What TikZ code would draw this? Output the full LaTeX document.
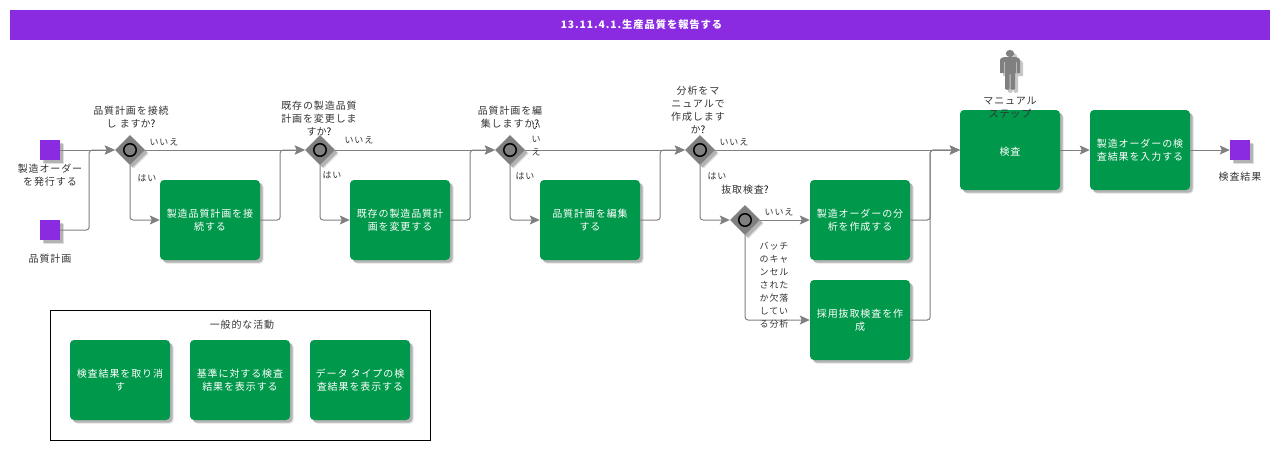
\documentclass[tikz,border=0pt]{standalone}
\usepackage{fontspec}
\setmainfont{Noto Sans CJK JP}[LetterSpace=9]
\usetikzlibrary{shapes.geometric,arrows.meta,shadows}
\definecolor{titlec}{HTML}{8A2BE2}
\definecolor{boxc}{HTML}{00984A}
\definecolor{linec}{HTML}{808080}
\definecolor{txtc}{HTML}{333333}
\newcommand{\qm}{\textcolor{black}{?}}
\newcommand{\figbody}{(-10,60) to[out=90,in=180] (-6,57.2) -- (6,57.2) to[out=0,in=90] (10,60) -- (10,73) -- (5,73) -- (5,88.5) to[out=-90,in=-90] (0.5,88.5) -- (0.5,74) -- (-0.5,74) -- (-0.5,88.5) to[out=-90,in=-90] (-5,88.5) -- (-5,73) -- (-10,73) -- cycle}
\tikzset{
  shade3/.style={drop shadow={shadow xshift=3.6pt,shadow yshift=-3.6pt,fill=black,opacity=.12},drop shadow={shadow xshift=2.6pt,shadow yshift=-2.6pt,fill=black,opacity=.2}},
  task/.style={shade3,fill=boxc,rounded corners=4pt,minimum width=100pt,minimum height=80pt,inner sep=0pt,align=center,text=white,font=\fontsize{10}{13}\selectfont,execute at begin node={\rule{0pt}{11pt}}},
  gate/.style={shade3,diamond,aspect=1,fill=linec,minimum width=30pt,minimum height=30pt,inner sep=0pt},
  ring/.style={circle,draw=black,line width=1.5pt,fill=linec,minimum size=12.5pt,inner sep=0pt},
  ev/.style={shade3,fill=titlec,minimum width=20pt,minimum height=20pt,inner sep=0pt},
  lab/.style={inner sep=0pt,align=center,text=txtc,font=\fontsize{10}{13}\selectfont},
  sm/.style={inner sep=0pt,align=center,text=txtc,font=\fontsize{9}{13}\selectfont},
  conn/.style={draw=linec,line width=1pt,rounded corners=3pt,-{Stealth[length=10pt,width=9pt,inset=2pt]}},
}
\begin{document}
\begin{tikzpicture}[x=1pt,y=-1pt]
\useasboundingbox (0,0) rectangle (1285,450);
\node[fill=titlec,minimum width=1260pt,minimum height=30pt,inner sep=0pt,text=white,font=\fontsize{10.3}{12}\selectfont\bfseries] (title) at (640,25) {\hspace{3pt}13.11.4.1.生産品質を報告する};

% group
\node[draw=black,line width=1pt,minimum width=380pt,minimum height=130pt,inner sep=0pt] (grp) at (240,375) {};
\node[lab] (grpt) at (242,325) {一般的な活動};
\node[task] (a1) at (120,380) {検査結果を取り消\\す};
\node[task] (a2) at (240,380) {基準に対する検査\\結果を表示する};
\node[task] (a3) at (360,380) {データ タイプの検\\査結果を表示する};

% events
\node[ev] (s1) at (50,150) {};
\node[ev] (s2) at (50,230) {};
\node[ev] (e1) at (1240,150) {};

% gateways
\node[gate] (g1) at (130,150) {};
\node[gate] (g2) at (320,150) {};
\node[gate] (g3) at (510,150) {};
\node[gate] (g4) at (700,150) {};
\node[gate] (g5) at (745,220) {};

% tasks
\node[task] (b1) at (210,220) {製造品質計画を接\\続する};
\node[task] (b2) at (400,220) {既存の製造品質計\\画を変更する};
\node[task] (b3) at (590,220) {品質計画を編集\\する};
\node[task] (b4) at (860,220) {製造オーダーの分\\析を作成する};
\node[task] (b5) at (860,320) {採用抜取検査を作\\成};
\node[task] (b6) at (1010,150) {検査};
\node[task] (b7) at (1140,150) {製造オーダーの検\\査結果を入力する};

% connectors
\draw[conn] (s1.east) -- (g1.west);
\draw[conn] (s2.east) -- ++(29,0) |- (g1.west);
\draw[conn] (g1.east) -- (g2.west);
\draw[conn] (g1.south) |- (b1.west);
\draw[conn] (b1.east) -- ++(20,0) |- (g2.west);
\draw[conn] (g2.east) -- (g3.west);
\draw[conn] (g2.south) |- (b2.west);
\draw[conn] (b2.east) -- ++(20,0) |- (g3.west);
\draw[conn] (g3.east) -- (g4.west);
\draw[conn] (g3.south) |- (b3.west);
\draw[conn] (b3.east) -- ++(20,0) |- (g4.west);
\draw[conn] (g4.east) -- (b6.west);
\draw[conn] (g4.south) |- (g5.west);
\draw[conn] (g5.east) -- (b4.west);
\draw[conn] (g5.south) |- (b5.west);
\draw[conn] (b4.east) -- ++(20,0) |- (b6.west);
\draw[conn] (b5.east) -- ++(20,0) |- (b6.west);
\draw[conn] (b6.east) -- (b7.west);
\draw[conn] (b7.east) -- (e1.west);

% gateway rings
\node[ring] (r1) at (g1) {};
\node[ring] (r2) at (g2) {};
\node[ring] (r3) at (g3) {};
\node[ring] (r4) at (g4) {};
\node[ring] (r5) at (g5) {};

% person
\begin{scope}[shift={(1010,0)}]
  \begin{scope}[shift={(3,3)}]
    \fill[black,opacity=.22] (0,53.5) ellipse (4.2 and 3.6);
    \fill[black,opacity=.22] \figbody;
  \end{scope}
  \fill[linec] (0,53.5) ellipse (4.2 and 3.6);
  \fill[linec] \figbody;
  \draw[white,opacity=.45,line width=.5pt] (-6.2,62) -- (-6.2,73) (6.2,62) -- (6.2,73);
\end{scope}

% labels
\node[lab] (ls1) at (50,175) {製造オーダー\\を発行する};
\node[lab] (ls2) at (50,259) {品質計画};
\node[lab] (le1) at (1240,176.5) {検査結果};
\node[lab] (lp) at (1010,108) {マニュアル\\ステップ};
\node[lab] (q1) at (131,117) {品質計画を接続\\し ます\mbox{か\qm}};
\node[lab] (q2) at (319,118.5) {既存の製造品質\\計画を変更しま\\す\mbox{か\qm}};
\node[lab] (q3) at (510,117) {品質計画を編\\集しますか\qm};
\node[lab] (q4) at (698,110) {分析をマ\\ニュアルで\\作成します\\か\qm};
\node[lab] (q5) at (745,189.5) {抜取検査\qm};
\node[sm] (n1) at (164,142) {いいえ};
\node[sm] (n2) at (359,140) {いいえ};
\node[sm] (n3) at (536,140) {い\\い\\え};
\node[sm] (n4) at (734,142) {いいえ};
\node[sm] (n5) at (779,212) {いいえ};
\node[sm] (y1) at (147,178) {はい};
\node[sm] (y2) at (332,175) {はい};
\node[sm] (y3) at (525,176) {はい};
\node[sm] (y4) at (717,176) {はい};
\node[sm] (y5) at (774,285) {バッチ\\のキャ\\ンセル\\された\\か欠落\\してい\\る分析};
\end{tikzpicture}
\end{document}
